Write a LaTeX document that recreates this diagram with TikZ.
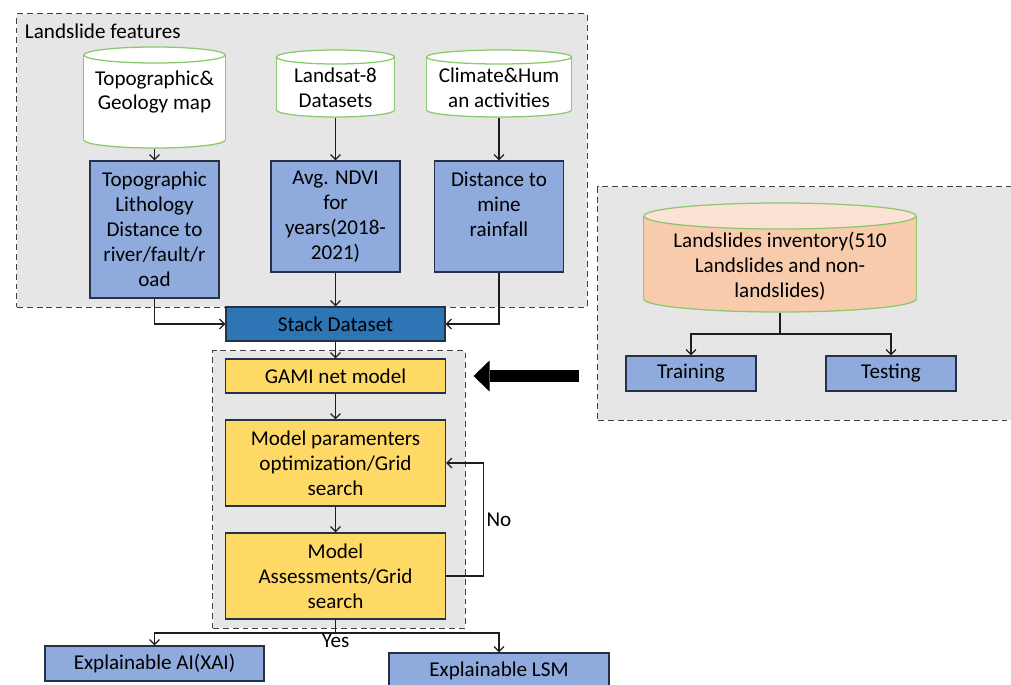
\documentclass[tikz,border=0pt]{standalone}
\usepackage{fontspec}
\setmainfont{Carlito}
\usetikzlibrary{arrows.meta,positioning,shapes.geometric}
\definecolor{LsmGray}{RGB}{231,230,230}
\definecolor{LsmDash}{RGB}{64,64,64}
\definecolor{LsmLine}{RGB}{30,30,30}
\definecolor{LsmEdge}{RGB}{38,50,68}
\definecolor{LsmBlue}{RGB}{143,170,220}
\definecolor{LsmDeep}{RGB}{46,117,182}
\definecolor{LsmYellow}{RGB}{255,217,102}
\definecolor{LsmGreen}{RGB}{140,200,110}
\definecolor{LsmPeach}{RGB}{248,203,173}
\definecolor{LsmPeachTop}{RGB}{251,226,213}
\newcommand{\lsmfont}{\fontsize{15}{17.7}\selectfont}
\tikzset{
  lsm/group/.style={
    draw=LsmDash,
    line width=0.7pt,
    dash pattern=on 4.2pt off 2.8pt,
    fill=LsmGray,
    inner sep=0pt
  },
  lsm/box/.style={
    draw=LsmEdge,
    line width=0.9pt,
    fill=LsmBlue,
    align=center,
    text=black,
    inner sep=2pt,
    font=\lsmfont
  },
  lsm/deepbox/.style={lsm/box, fill=LsmDeep},
  lsm/yellowbox/.style={lsm/box, fill=LsmYellow},
  lsm/dbend/.style={ellipse, draw=LsmGreen, line width=0.9pt, fill=white, inner sep=0pt},
  lsm/dbbody/.style={rectangle, draw=none, fill=white, inner sep=0pt},
  lsm/dbside/.style={draw=LsmGreen, line width=0.9pt},
  lsm/dbtext/.style={align=center, text=black, inner sep=0pt, font=\lsmfont},
  lsm/arrow/.style={-{Straight Barb[length=3.5pt,width=7pt]}, line width=0.9pt, draw=LsmLine},
  lsm/bigarrow/.style={-{Triangle[length=0.4cm,width=0.775cm,line width=0pt]}, line width=9.2pt, draw=black},
  lsm/title/.style={font=\lsmfont, text=black},
  lsm/tag/.style={font=\lsmfont, text=black, inner sep=2pt}
}
\begin{document}
\begin{tikzpicture}[x=0.025cm,y=-0.025cm]
  \useasboundingbox (0,0) rectangle (1011,684);
  \fill[white] (0,0) rectangle (1011,684);
  % landslide features
  \node[lsm/group,minimum width=14.25cm,minimum height=7.325cm] (featgrp) at (302,160.5) {};
  \node[lsm/title,anchor=west] (feattitle) at (20,31) {Landslide features};
  % data cylinders: base, body, sides, top
  \node[lsm/dbend,minimum width=3.525cm,minimum height=0.4cm] (topomapbase) at (154.5,140) {};
  \node[lsm/dbbody,minimum width=3.525cm,minimum height=2.125cm] (topomap) at (154.5,97.5) {};
  \node[lsm/dbend,minimum width=2.95cm,minimum height=0.35cm] (landsatbase) at (335.5,110) {};
  \node[lsm/dbbody,minimum width=2.95cm,minimum height=1.325cm] (landsat) at (335.5,83.5) {};
  \node[lsm/dbend,minimum width=3.625cm,minimum height=0.35cm] (climatebase) at (499,110) {};
  \node[lsm/dbbody,minimum width=3.625cm,minimum height=1.325cm] (climate) at (499,83.5) {};
  % inventory group
  \node[lsm/group,minimum width=10.375cm,minimum height=5.825cm] (datagrp) at (805.5,303.5) {};
  \node[lsm/dbend,fill=LsmPeach,minimum width=6.8cm,minimum height=0.65cm] (inventorybase) at (780,299) {};
  \node[lsm/dbbody,fill=LsmPeach,minimum width=6.8cm,minimum height=2.075cm] (inventory) at (780,257.5) {};
  \foreach \db in {topomap,landsat,climate,inventory}{
    \draw[lsm/dbside] (\db.north west) -- (\db.south west) (\db.north east) -- (\db.south east);
  }
  \node[lsm/dbend,minimum width=3.525cm,minimum height=0.4cm] (topomaptop) at (154.5,55) {};
  \node[lsm/dbend,minimum width=2.95cm,minimum height=0.35cm] (landsattop) at (335.5,57) {};
  \node[lsm/dbend,minimum width=3.625cm,minimum height=0.35cm] (climatetop) at (499,57) {};
  \node[lsm/dbend,fill=LsmPeachTop,minimum width=6.8cm,minimum height=0.65cm] (inventorytop) at (780,216) {};
  \node[lsm/dbtext] (topotext) at (154.5,92) {Topographic\&\\Geology map};
  \node[lsm/dbtext] (landsattext) at (335.5,87.5) {Landsat-8\\Datasets};
  \node[lsm/dbtext] (climatetext) at (499,87.5) {Climate\&Hum\\an activities};
  \node[lsm/dbtext] (inventorytext) at (780,266) {Landslides inventory(510\\Landslides and non-\\landslides)};
  % feature boxes
  \node[lsm/box,minimum width=3.225cm,minimum height=3.425cm] (topobox) at (154.5,229.5) {Topographic\\Lithology\\Distance to\\river/fault/r\\oad};
  \node[lsm/box,minimum width=3.225cm,minimum height=2.775cm] (ndvibox) at (335.5,216.5) {Avg. NDVI\\for\\years(2018-\\2021)};
  \node[lsm/box,minimum width=3.225cm,minimum height=2.775cm] (minebox) at (499,216.5) {Distance to\\mine\\rainfall\\~};
  \draw[lsm/arrow] (topomapbase.south) -- (topobox);
  \draw[lsm/arrow] (landsatbase.south) -- (ndvibox);
  \draw[lsm/arrow] (climatebase.south) -- (minebox);
  % stack
  \node[lsm/deepbox,minimum width=5.475cm,minimum height=0.85cm] (stack) at (335.5,324) {Stack Dataset};
  \draw[lsm/arrow] (topobox.south) |- (stack.west);
  \draw[lsm/arrow] (minebox.south) |- (stack.east);
  \draw[lsm/arrow] (ndvibox) -- (stack);
  % model
  \node[lsm/group,minimum width=6.3cm,minimum height=6.925cm] (modelgrp) at (339,489.5) {};
  \node[lsm/yellowbox,minimum width=5.5cm,minimum height=0.85cm] (gami) at (335.5,376) {GAMI net model};
  \node[lsm/yellowbox,minimum width=5.5cm,minimum height=2.15cm] (params) at (335.5,463) {Model paramenters\\optimization/Grid\\search};
  \node[lsm/yellowbox,minimum width=5.5cm,minimum height=2.15cm] (assess) at (335.5,576) {Model\\Assessments/Grid\\search};
  \draw[lsm/arrow] (stack) -- (gami);
  \draw[lsm/arrow] (gami) -- (params);
  \draw[lsm/arrow] (params) -- (assess);
  \draw[lsm/arrow] (assess.east) -- ++(37,0) |- node[lsm/tag,pos=0.25,right] (no) {No} (params.east);
  % outputs
  \coordinate (split) at (335.5,633);
  \node[lsm/tag] (yes) at (335.5,641) {Yes};
  \node[lsm/box,minimum width=5.475cm,minimum height=0.875cm] (xai) at (154.5,663.5) {Explainable AI(XAI)};
  \node[lsm/box,minimum width=5.5cm,minimum height=0.875cm] (lsmout) at (499,670.5) {Explainable LSM};
  \draw[lsm/arrow] (assess.south) -- (split) -| (xai);
  \draw[lsm/arrow] (assess.south) -- (split) -| (lsmout);
  % training / testing
  \coordinate (invsplit) at (780,334);
  \node[lsm/box,minimum width=3.25cm,minimum height=0.875cm] (training) at (691,373.5) {Training};
  \node[lsm/box,minimum width=3.25cm,minimum height=0.875cm] (testing) at (891,373.5) {Testing};
  \draw[lsm/arrow] (inventorybase.south) -- (invsplit) -| (training);
  \draw[lsm/arrow] (inventorybase.south) -- (invsplit) -| (testing);
  \coordinate (bigtail) at (579,376);
  \draw[lsm/bigarrow,shorten >=0.2cm] (bigtail) -- (modelgrp.east |- bigtail);
\end{tikzpicture}
\end{document}
